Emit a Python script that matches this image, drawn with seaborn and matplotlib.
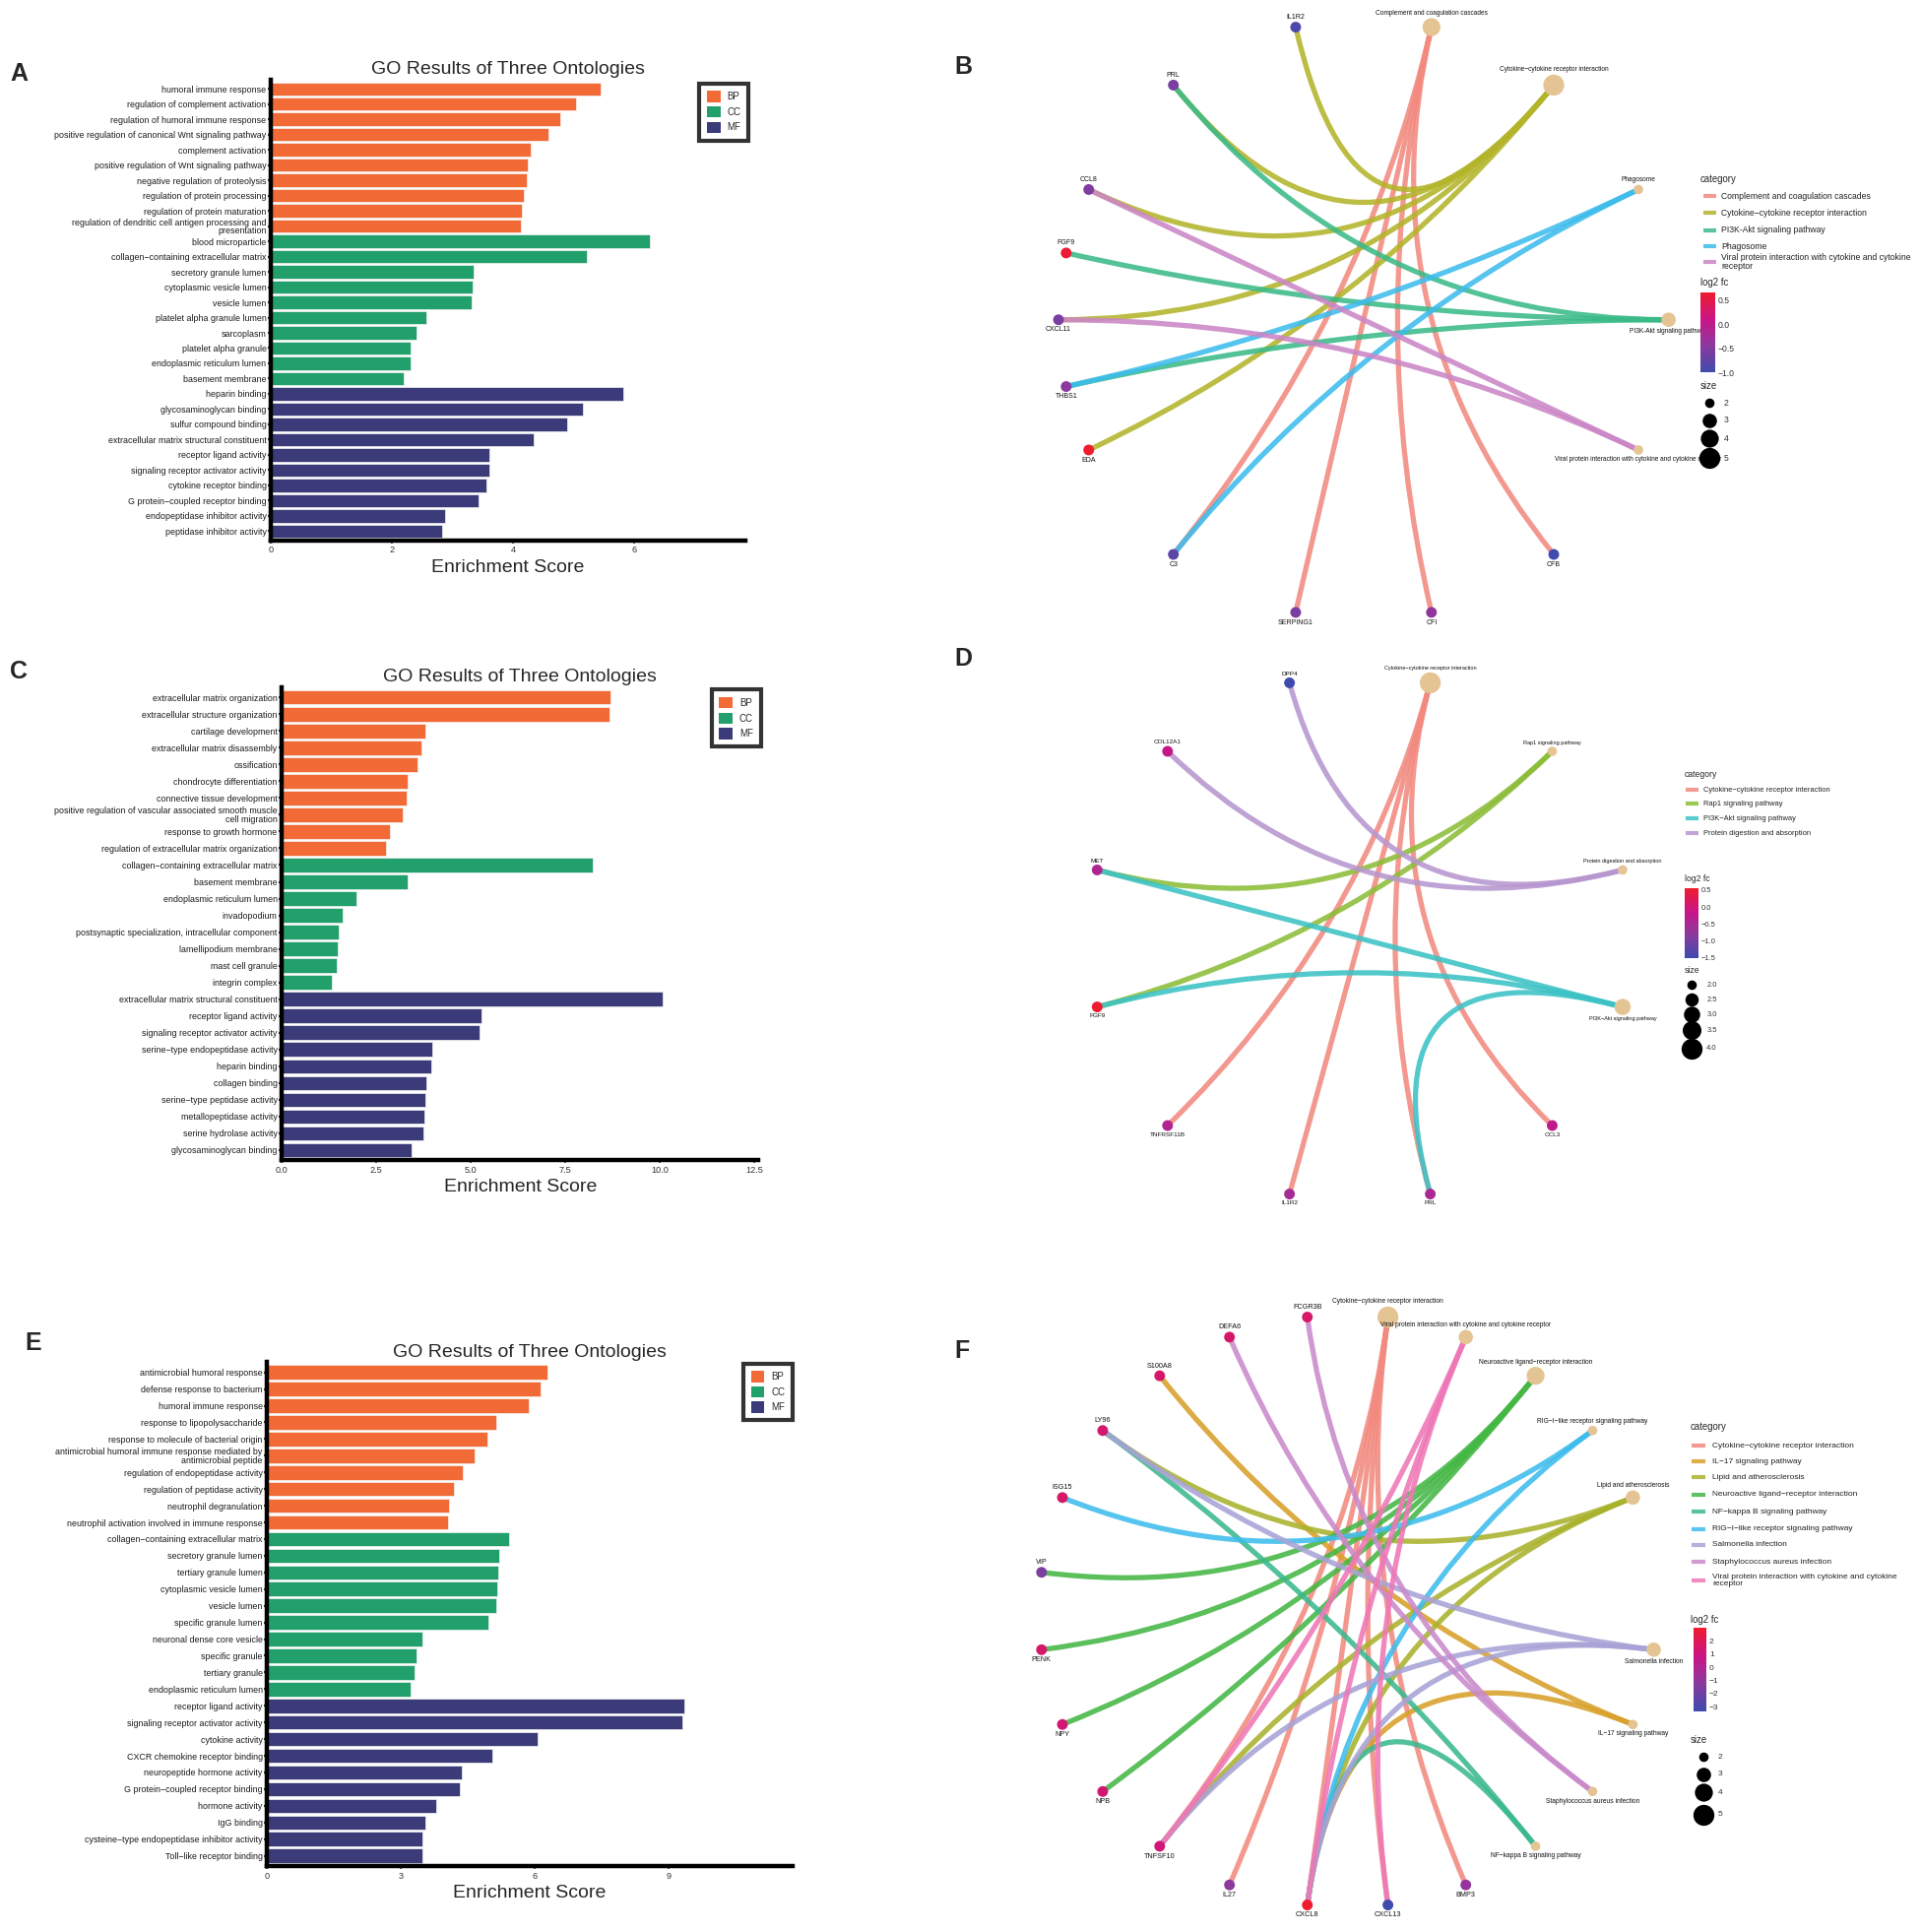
import textwrap
import numpy as np
import pandas as pd
import matplotlib
matplotlib.use("Agg")
import matplotlib.pyplot as plt
import seaborn as sns
from matplotlib.path import Path
from matplotlib.patches import PathPatch, Patch
from matplotlib.lines import Line2D
from matplotlib.colors import LinearSegmentedColormap, Normalize
import matplotlib.colorbar as mcolorbar

sns.set_theme(style="white")
plt.rcParams['font.family'] = ['Liberation Sans', 'DejaVu Sans']

# ------------------------------------------------------------------ data: panel A
A_bp_terms = ["humoral immune response", "regulation of complement activation",
              "regulation of humoral immune response",
              "positive regulation of canonical Wnt signaling pathway", "complement activation",
              "positive regulation of Wnt signaling pathway", "negative regulation of proteolysis",
              "regulation of protein processing", "regulation of protein maturation",
              "regulation of dendritic cell antigen processing and presentation"]
A_bp_scores = [5.44, 5.03, 4.77, 4.58, 4.29, 4.24, 4.23, 4.18, 4.14, 4.13]
A_cc_terms = ["blood microparticle", "collagen−containing extracellular matrix",
              "secretory granule lumen", "cytoplasmic vesicle lumen", "vesicle lumen",
              "platelet alpha granule lumen", "sarcoplasm", "platelet alpha granule",
              "endoplasmic reticulum lumen", "basement membrane"]
A_cc_scores = [6.26, 5.22, 3.35, 3.33, 3.32, 2.57, 2.41, 2.31, 2.30, 2.20]
A_mf_terms = ["heparin binding", "glycosaminoglycan binding", "sulfur compound binding",
              "extracellular matrix structural constituent", "receptor ligand activity",
              "signaling receptor activator activity", "cytokine receptor binding",
              "G protein−coupled receptor binding", "endopeptidase inhibitor activity",
              "peptidase inhibitor activity"]
A_mf_scores = [5.82, 5.15, 4.89, 4.33, 3.61, 3.60, 3.55, 3.43, 2.87, 2.82]
A_xticks = [0, 2, 4, 6]

# ------------------------------------------------------------------ data: panel C
C_bp_terms = ["extracellular matrix organization", "extracellular structure organization",
              "cartilage development", "extracellular matrix disassembly", "ossification",
              "chondrocyte differentiation", "connective tissue development",
              "positive regulation of vascular associated smooth muscle cell migration",
              "response to growth hormone", "regulation of extracellular matrix organization"]
C_bp_scores = [8.68, 8.67, 3.80, 3.68, 3.59, 3.32, 3.31, 3.20, 2.85, 2.75]
C_cc_terms = ["collagen−containing extracellular matrix", "basement membrane",
              "endoplasmic reticulum lumen", "invadopodium",
              "postsynaptic specialization, intracellular component", "lamellipodium membrane",
              "mast cell granule", "integrin complex"]
C_cc_scores = [8.21, 3.34, 1.98, 1.62, 1.50, 1.48, 1.46, 1.33]
C_mf_terms = ["extracellular matrix structural constituent", "receptor ligand activity",
              "signaling receptor activator activity", "serine−type endopeptidase activity",
              "heparin binding", "collagen binding", "serine−type peptidase activity",
              "metallopeptidase activity", "serine hydrolase activity", "glycosaminoglycan binding"]
C_mf_scores = [10.06, 5.27, 5.24, 3.97, 3.95, 3.81, 3.79, 3.77, 3.75, 3.43]
C_xticks = [0.0, 2.5, 5.0, 7.5, 10.0, 12.5]

# ------------------------------------------------------------------ data: panel E
E_bp_terms = ["antimicrobial humoral response", "defense response to bacterium",
              "humoral immune response", "response to lipopolysaccharide",
              "response to molecule of bacterial origin",
              "antimicrobial humoral immune response mediated by antimicrobial peptide",
              "regulation of endopeptidase activity", "regulation of peptidase activity",
              "neutrophil degranulation", "neutrophil activation involved in immune response"]
E_bp_scores = [6.28, 6.12, 5.85, 5.13, 4.94, 4.64, 4.39, 4.19, 4.07, 4.06]
E_cc_terms = ["collagen−containing extracellular matrix", "secretory granule lumen",
              "tertiary granule lumen", "cytoplasmic vesicle lumen", "vesicle lumen",
              "specific granule lumen", "neuronal dense core vesicle", "specific granule",
              "tertiary granule", "endoplasmic reticulum lumen"]
E_cc_scores = [5.41, 5.19, 5.17, 5.16, 5.14, 4.95, 3.48, 3.34, 3.31, 3.22]
E_mf_terms = ["receptor ligand activity", "signaling receptor activator activity",
              "cytokine activity", "CXCR chemokine receptor binding",
              "neuropeptide hormone activity", "G protein−coupled receptor binding",
              "hormone activity", "IgG binding", "cysteine−type endopeptidase inhibitor activity",
              "Toll−like receptor binding"]
E_mf_scores = [9.34, 9.29, 6.06, 5.05, 4.36, 4.32, 3.78, 3.55, 3.48, 3.47]
E_xticks = [0, 3, 6, 9]

# ------------------------------------------------------------------ data: panel B network
B_cat_genes = {
    "Complement and coagulation cascades": ["C3", "SERPING1", "CFI", "CFB"],
    "Cytokine−cytokine receptor interaction": ["IL1R2", "PRL", "CCL8", "CXCL11", "EDA"],
    "PI3K-Akt signaling pathway": ["PRL", "FGF9", "THBS1"],
    "Phagosome": ["THBS1", "C3"],
    "Viral protein interaction with cytokine and cytokine receptor": ["CCL8", "CXCL11"],
}
B_gene_fc = {"IL1R2": -0.90, "PRL": -0.58, "CCL8": -0.52, "FGF9": 0.60, "CXCL11": -0.58,
             "THBS1": -0.45, "EDA": 0.65, "C3": -0.78, "SERPING1": -0.55, "CFI": -0.38,
             "CFB": -1.00}
B_fc_ticks = [-1.0, -0.5, 0.0, 0.5]
B_size_breaks = [2, 3, 4, 5]

# ------------------------------------------------------------------ data: panel D network
D_cat_genes = {
    "Cytokine−cytokine receptor interaction": ["TNFRSF11B", "IL1R2", "PRL", "CCL3"],
    "Rap1 signaling pathway": ["MET", "FGF9"],
    "PI3K−Akt signaling pathway": ["MET", "FGF9", "PRL"],
    "Protein digestion and absorption": ["DPP4", "COL12A1"],
}
D_gene_fc = {"DPP4": -1.50, "COL12A1": -0.20, "MET": -0.42, "FGF9": 0.55,
             "TNFRSF11B": -0.40, "IL1R2": -0.55, "PRL": -0.48, "CCL3": -0.25}
D_fc_ticks = [-1.5, -1.0, -0.5, 0.0, 0.5]
D_size_breaks = [2.0, 2.5, 3.0, 3.5, 4.0]

# ------------------------------------------------------------------ data: panel F network
F_cat_genes = {
    "Cytokine−cytokine receptor interaction": ["IL27", "CXCL8", "CXCL13", "BMP3", "TNFSF10"],
    "IL−17 signaling pathway": ["S100A8", "CXCL8"],
    "Lipid and atherosclerosis": ["LY96", "CXCL8", "TNFSF10"],
    "Neuroactive ligand−receptor interaction": ["VIP", "PENK", "NPY", "NPB"],
    "NF−kappa B signaling pathway": ["LY96", "CXCL8"],
    "RIG−I−like receptor signaling pathway": ["ISG15", "CXCL8"],
    "Salmonella infection": ["LY96", "CXCL8", "TNFSF10"],
    "Staphylococcus aureus infection": ["DEFA6", "FCGR3B"],
    "Viral protein interaction with cytokine and cytokine receptor": ["CXCL8", "CXCL13", "TNFSF10"],
}
F_gene_fc = {"FCGR3B": 1.6, "DEFA6": 1.5, "S100A8": 1.5, "LY96": 1.4, "ISG15": 1.6,
             "VIP": -1.6, "PENK": 1.5, "NPY": 1.3, "NPB": 1.3, "TNFSF10": 1.2,
             "IL27": -1.2, "CXCL8": 2.98, "CXCL13": -3.37, "BMP3": -0.9}
F_fc_ticks = [-3, -2, -1, 0, 1, 2]
F_size_breaks = [2, 3, 4, 5]

# ------------------------------------------------------------------ layout / style
W, H = 1568.0, 1577.0


def fx(x):
    return x / W


def fy(y):
    return 1.0 - y / H


ONT_COLORS = {"BP": "#F26A36", "CC": "#22A06B", "MF": "#3B3B7A"}
CAT_NODE = "#E5C494"
FC_CMAP = LinearSegmentedColormap.from_list(
    "fc", ["#3F4AAD", "#8A3A9E", "#CA1586", "#EF1B2F"])

fig = plt.figure(figsize=(19.51, 19.62), dpi=100)
fig.patch.set_facecolor("white")


def bar_panel(box, bp, cc, mf, xmax, xticks, legend_anchor):
    left, right, top, bottom = box
    ax = fig.add_axes([fx(left), fy(bottom), (right - left) / W, (bottom - top) / H])
    terms = bp[0] + cc[0] + mf[0]
    scores = bp[1] + cc[1] + mf[1]
    onts = ["BP"] * len(bp[0]) + ["CC"] * len(cc[0]) + ["MF"] * len(mf[0])
    labels = [textwrap.fill(t, 56) for t in terms]
    df = pd.DataFrame({"term": labels, "score": scores, "ont": onts})
    sns.barplot(data=df, x="score", y="term", hue="ont", order=labels,
                hue_order=["BP", "CC", "MF"], palette=ONT_COLORS, dodge=False,
                width=0.86, saturation=1, edgecolor="#f4f4f4", linewidth=0.5,
                orient="h", ax=ax, legend=False)
    n = len(labels)
    ax.set_ylim(n - 0.4, -0.6)
    ax.set_xlim(0, xmax)
    ax.set_xticks(xticks)
    all_int = all(float(t).is_integer() for t in xticks)
    ax.set_xticklabels([("%d" % v) if all_int else "%.1f" % v for v in xticks])
    for s in ["top", "right"]:
        ax.spines[s].set_visible(False)
    for s in ["left", "bottom"]:
        ax.spines[s].set_linewidth(3.2)
        ax.spines[s].set_color("black")
    ax.tick_params(axis="y", length=2.2, width=1.6, color="#333333", pad=1,
                   labelsize=6.4, labelcolor="#1a1a1a", left=True)
    ax.tick_params(axis="x", length=2.2, width=1.2, color="#333333", pad=2,
                   labelsize=6.6, labelcolor="#333333", bottom=True)
    for lab in ax.get_yticklabels():
        lab.set_linespacing(0.95)
    ax.set_ylabel("")
    ax.set_xlabel("Enrichment Score", fontsize=14, labelpad=3)
    ax.set_title("GO Results of Three Ontologies", fontsize=14, pad=4)
    ax.grid(False)
    handles = [Patch(facecolor=ONT_COLORS[k], edgecolor="none") for k in ["BP", "CC", "MF"]]
    leg = ax.legend(handles, ["BP", "CC", "MF"], loc="upper right", bbox_to_anchor=legend_anchor,
                    fontsize=7, frameon=True, fancybox=False, edgecolor="black",
                    handlelength=1.4, handleheight=1.4, labelspacing=0.45, borderpad=0.8,
                    handletextpad=0.7, borderaxespad=0)
    leg.get_frame().set_linewidth(3.0)
    return ax


bar_panel((221, 608, 65, 441), (A_bp_terms, A_bp_scores), (A_cc_terms, A_cc_scores),
          (A_mf_terms, A_mf_scores), 7.82, A_xticks, (1.008, 0.992))
bar_panel((230, 619, 561, 947), (C_bp_terms, C_bp_scores), (C_cc_terms, C_cc_scores),
          (C_mf_terms, C_mf_scores), 12.6, C_xticks, (1.005, 0.995))
bar_panel((218, 647, 1112, 1523), (E_bp_terms, E_bp_scores), (E_cc_terms, E_cc_scores),
          (E_mf_terms, E_mf_scores), 11.77, E_xticks, (1.0, 0.998))


def ring_layout(ring, tucked):
    n = len(ring)
    step = 2 * np.pi / n
    pos = {}
    for i, node in enumerate(ring):
        if node is not None:
            th = (i + 0.5) * step
            pos[node] = (np.sin(th), np.cos(th))
    for node, (a, b) in tucked.items():
        ia, ib = ring.index(a), ring.index(b)
        th = ((ia + 0.5) + (ib + 0.5)) / 2.0 * step
        pos[node] = (np.sin(th), np.cos(th))
    return pos


def size_mapper(values, smin=48.0, smax=235.0):
    lo, hi = min(values), max(values)

    def f(v):
        return smin + (v - lo) / (hi - lo) * (smax - smin)
    return f


def draw_network(center, radii, ring, tucked, cat_genes, cat_colors, gene_fc,
                 cat_fs, gene_fs, gene_s=62):
    cx, cy = center
    rx, ry = radii
    ax = fig.add_axes([fx(cx - rx), fy(cy + ry), 2 * rx / W, 2 * ry / H])
    ax.set_xlim(-1, 1)
    ax.set_ylim(-1, 1)
    ax.axis("off")
    pos = ring_layout(ring, tucked)
    cats = list(cat_genes.keys())
    counts = [len(cat_genes[c]) for c in cats]
    sz = size_mapper(counts)
    norm = Normalize(min(gene_fc.values()), max(gene_fc.values()))
    for c in cats:
        for g in cat_genes[c]:
            path = Path([pos[g], (0.0, 0.0), pos[c]], [Path.MOVETO, Path.CURVE3, Path.CURVE3])
            ax.add_patch(PathPatch(path, fill=False, edgecolor=cat_colors[c], lw=3.8,
                                   alpha=0.88, capstyle="butt", zorder=1, clip_on=False))
    genes = list(gene_fc.keys())
    ax.scatter([pos[g][0] for g in genes], [pos[g][1] for g in genes],
               c=[gene_fc[g] for g in genes], cmap=FC_CMAP, norm=norm, s=gene_s,
               linewidths=0, zorder=3, clip_on=False)
    ax.scatter([pos[c][0] for c in cats], [pos[c][1] for c in cats],
               s=[sz(v) for v in counts], color=CAT_NODE, linewidths=0, zorder=3, clip_on=False)
    for node, (x, y) in pos.items():
        above = y > 0.1
        is_cat = node in cat_genes
        off = (np.sqrt(sz(len(cat_genes[node]))) / 2 + 1.0) if is_cat else 4.8
        ax.annotate(node, (x, y), xytext=(0, off if above else -off), textcoords="offset points",
                    ha="center", va="bottom" if above else "top",
                    fontsize=cat_fs if is_cat else gene_fs, color="#111111",
                    annotation_clip=False, zorder=4)
    return norm, sz


def net_legend(x0, key_x, text_x, title_fs, fs, cat_title_y, row_ys, cats, colors,
               cb_title_y, cb_box, norm, ticks, tick_fmt, size_title_y, size_ys, dot_x,
               size_breaks, size_fmt, sz):
    fig.text(fx(x0), fy(cat_title_y), "category", fontsize=title_fs, va="center", ha="left")
    for c, y in zip(cats, row_ys):
        fig.add_artist(Line2D([fx(key_x[0]), fx(key_x[1])], [fy(y), fy(y)], color=colors[c],
                              lw=3.0, alpha=0.85, solid_capstyle="butt",
                              transform=fig.transFigure))
        fig.text(fx(text_x), fy(y), textwrap.fill(c, 52), fontsize=fs, va="center", ha="left",
                 linespacing=0.95, color="#222222")
    fig.text(fx(x0), fy(cb_title_y), "log2 fc", fontsize=title_fs, va="center", ha="left")
    l, r, t, b = cb_box
    cax = fig.add_axes([fx(l), fy(b), (r - l) / W, (b - t) / H])
    cb = mcolorbar.ColorbarBase(cax, cmap=FC_CMAP, norm=norm, orientation="vertical")
    cb.outline.set_visible(False)
    cb.set_ticks(ticks)
    cb.set_ticklabels([(tick_fmt % v).replace("-", "−") for v in ticks])
    cax.tick_params(which="major", direction="in", length=2.5, width=1.0, color="white",
                    left=True, right=True, labelleft=False, labelright=True,
                    labelsize=fs, labelcolor="#333333", pad=2)
    cax.minorticks_off()
    fig.text(fx(x0), fy(size_title_y), "size", fontsize=title_fs, va="center", ha="left")
    for v, y in zip(size_breaks, size_ys):
        fig.add_artist(Line2D([fx(dot_x)], [fy(y)], marker="o", markersize=np.sqrt(sz(v)),
                              color="black", markeredgewidth=0, linestyle="none",
                              transform=fig.transFigure))
        fig.text(fx(dot_x + 12), fy(y), size_fmt % v, fontsize=fs, va="center", ha="left",
                 color="#333333")


# ---- panel B
B_colors = {"Complement and coagulation cascades": "#F28A80",
            "Cytokine−cytokine receptor interaction": "#B3B42A",
            "PI3K-Akt signaling pathway": "#3BBA88",
            "Phagosome": "#3DBCEC",
            "Viral protein interaction with cytokine and cytokine receptor": "#CB86C6"}
B_ring = ["Complement and coagulation cascades", "Cytokine−cytokine receptor interaction",
          "Phagosome", "PI3K-Akt signaling pathway",
          "Viral protein interaction with cytokine and cytokine receptor",
          "CFB", "CFI", "SERPING1", "C3", "EDA", "CXCL11", "CCL8", "PRL", "IL1R2"]
B_tucked = {"THBS1": ("EDA", "CXCL11"), "FGF9": ("CXCL11", "CCL8")}
normB, szB = draw_network((1113, 261), (249, 245), B_ring, B_tucked, B_cat_genes, B_colors,
                          B_gene_fc, 4.7, 5.0)
net_legend(1388, (1390, 1401), 1405, 6.9, 6.2, 146, [160, 174, 188, 201, 214],
           list(B_cat_genes.keys()), B_colors, 231, (1388, 1400, 239, 304), normB,
           B_fc_ticks, "%.1f", 315, [329, 343, 358, 374], 1395, B_size_breaks, "%d", szB)

# ---- panel D
D_colors = {"Cytokine−cytokine receptor interaction": "#F28A80",
            "Rap1 signaling pathway": "#8CBD38",
            "PI3K−Akt signaling pathway": "#3CC2C5",
            "Protein digestion and absorption": "#B796CF"}
D_ring = ["Cytokine−cytokine receptor interaction", "Rap1 signaling pathway",
          "Protein digestion and absorption", "PI3K−Akt signaling pathway",
          "CCL3", "PRL", "IL1R2", "TNFRSF11B", "FGF9", "MET", "COL12A1", "DPP4"]
normD, szD = draw_network((1110, 766), (222, 216), D_ring, {}, D_cat_genes, D_colors,
                          D_gene_fc, 4.0, 4.6)
net_legend(1375, (1376, 1386), 1390, 6.2, 5.4, 632, [645, 656, 668, 680],
           list(D_cat_genes.keys()), D_colors, 717, (1375, 1386, 725, 782), normD,
           D_fc_ticks, "%.1f", 792, [804, 816, 828, 841, 856], 1381, D_size_breaks, "%.1f", szD)

# ---- panel F
F_colors = {"Cytokine−cytokine receptor interaction": "#F28A80",
            "IL−17 signaling pathway": "#D9A02A",
            "Lipid and atherosclerosis": "#A9B22C",
            "Neuroactive ligand−receptor interaction": "#44B744",
            "NF−kappa B signaling pathway": "#3BB98F",
            "RIG−I−like receptor signaling pathway": "#3DBCEC",
            "Salmonella infection": "#A8A3D6",
            "Staphylococcus aureus infection": "#C98ACB",
            "Viral protein interaction with cytokine and cytokine receptor": "#EE78B7"}
F_ring = ["Cytokine−cytokine receptor interaction",
          "Viral protein interaction with cytokine and cytokine receptor",
          "Neuroactive ligand−receptor interaction", "RIG−I−like receptor signaling pathway",
          "Lipid and atherosclerosis", None, "Salmonella infection", "IL−17 signaling pathway",
          "Staphylococcus aureus infection", "NF−kappa B signaling pathway",
          "BMP3", "CXCL13", "CXCL8", "IL27", "TNFSF10", "NPB", "NPY", "PENK", "VIP",
          "ISG15", "LY96", "S100A8", "DEFA6", "FCGR3B"]
normF, szF = draw_network((1100, 1315), (252, 242), F_ring, {}, F_cat_genes, F_colors,
                          F_gene_fc, 4.8, 5.2)
net_legend(1380, (1381, 1392), 1398, 6.9, 6.0, 1165,
           [1180, 1193, 1206, 1220, 1234, 1248, 1261, 1275, 1290],
           list(F_cat_genes.keys()), F_colors, 1322, (1382, 1393, 1329, 1397), normF,
           F_fc_ticks, "%d", 1420, [1434, 1448, 1463, 1481], 1390, F_size_breaks, "%d", szF)

# ---- panel letters
for letter, x, y in [("A", 8, 60), ("B", 779, 55), ("C", 8, 548), ("D", 779, 538),
                     ("E", 20, 1096), ("F", 779, 1103)]:
    fig.text(fx(x), fy(y), letter, fontsize=18, fontweight="bold", ha="left", va="center")

fig.savefig("out.png", dpi=100, facecolor="white")
